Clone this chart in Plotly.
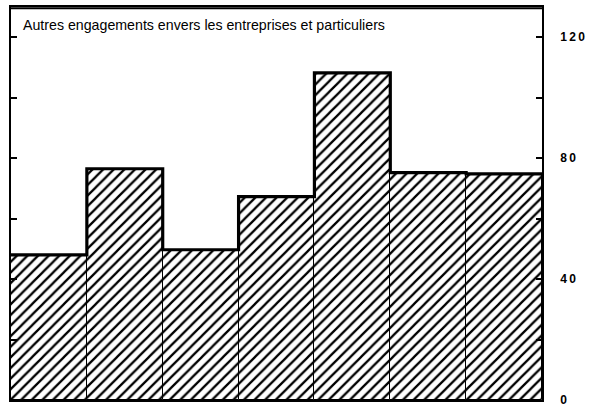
import plotly.graph_objects as go

title_text = "Autres engagements envers les entreprises et particuliers"
periods = list(range(7))
values = [48.0, 76.5, 49.7, 67.3, 108.2, 75.2, 74.8]
tick_vals = [0, 20, 40, 60, 80, 100, 120]
tick_text = ["0", "", "4\u20090", "", "8\u20090", "", "1\u20092\u20090"]

# step outline along bar edges
edges = [p - 0.5 for p in periods] + [periods[-1] + 0.5]
step_y = values + [values[-1]]

fig = go.Figure()
fig.add_bar(
    x=periods,
    y=values,
    width=1,
    marker=dict(
        color="white",
        line=dict(color="black", width=1),
        pattern=dict(shape="/", fgcolor="black", bgcolor="white", fgopacity=1, size=7.5, solidity=0.3),
    ),
    hoverinfo="skip",
)
fig.add_scatter(
    x=edges,
    y=step_y,
    mode="lines",
    line=dict(color="black", width=3.2, shape="hv"),
    hoverinfo="skip",
)

fig.update_layout(
    width=602,
    height=408,
    margin=dict(l=11, r=60, t=7, b=8, autoexpand=False),
    paper_bgcolor="white",
    plot_bgcolor="white",
    showlegend=False,
    bargap=0,
    font=dict(family="Liberation Sans, Arial, sans-serif", color="black"),
    annotations=[
        dict(
            text=title_text,
            xref="paper", yref="paper",
            x=0.018, y=0.955,
            xanchor="left", yanchor="middle",
            showarrow=False,
            font=dict(size=14.2, color="black"),
        )
    ],
    # top edge of the frame, drawn in data coords of the y axis
    shapes=[
        dict(
            type="line", xref="paper", yref="y",
            x0=0, x1=1, y0=129.6, y1=129.6,
            line=dict(color="black", width=2),
            layer="above",
        ),
    ],
)
fig.update_xaxes(
    range=[-0.5, 6.5],
    automargin=False,
    showgrid=False, zeroline=False,
    showticklabels=False, ticks="",
    showline=True, linecolor="black", linewidth=1.5, mirror="all",
)
fig.update_yaxes(
    range=[0, 130],
    automargin=False,
    side="right",
    tickvals=tick_vals, ticktext=tick_text,
    ticks="inside", ticklen=6, tickwidth=1.5, tickcolor="black",
    ticklabelstandoff=14,
    tickfont=dict(size=12, family="Liberation Sans, Arial, sans-serif", weight="bold"),
    showgrid=False, zeroline=False,
    showline=True, linecolor="black", linewidth=1.5, mirror="ticks",
)

fig.write_html(
    "out.html",
    config={"displayModeBar": False},
    post_script="document.body.style.margin='0';",
)
